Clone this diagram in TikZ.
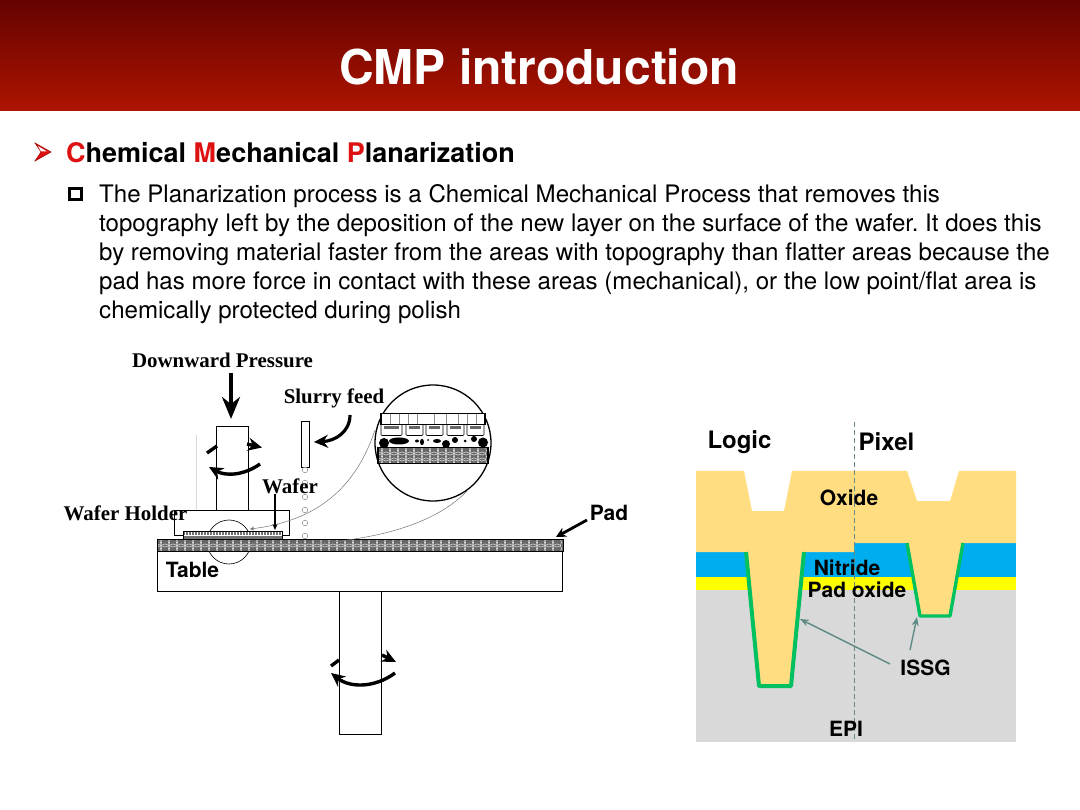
\documentclass[tikz,border=0pt]{standalone}
\usepackage{fontspec}
\setmainfont{TeX Gyre Heros}
\newfontfamily\tms{Liberation Serif}
\usetikzlibrary{arrows.meta}
\frenchspacing
\definecolor{hdtop}{HTML}{640300}
\definecolor{hdbot}{HTML}{AE1400}
\definecolor{redtx}{HTML}{DD1111}
\definecolor{oxidec}{HTML}{FFDD80}
\definecolor{nitr}{HTML}{00AEEF}
\definecolor{padox}{HTML}{FFFF00}
\definecolor{epic}{HTML}{D9D9D9}
\definecolor{liner}{HTML}{00C060}
\definecolor{pointer}{HTML}{5F8A85}
\tikzset{
  serlabel/.style={font=\tms\bfseries\fontsize{20.9}{22}\selectfont,inner sep=0pt,text=black},
  sanlabel/.style={font=\bfseries\fontsize{21}{24}\selectfont,inner sep=0pt,text=black},
  biglabel/.style={font=\bfseries\fontsize{24}{26}\selectfont,inner sep=0pt,text=black},
  sublabel/.style={font=\bfseries\fontsize{21}{23}\selectfont,inner sep=0pt,text=black},
  bodytx/.style={font=\fontsize{24.1}{29}\selectfont,inner sep=0pt,anchor=base west},
  partbox/.style={draw=black,line width=1pt,fill=white},
  turn/.style={line width=3.4pt,-{Stealth[length=14pt,width=13pt]}},
  turnplain/.style={line width=3.4pt},
  heavy/.style={line width=4pt,-{Stealth[length=22pt,width=18pt]}},
  faint/.style={draw=black!55,line width=0.5pt},
  linerline/.style={draw=liner,line width=4pt,line join=round},
  isspoint/.style={draw=pointer,line width=1.4pt,-{Stealth[length=9pt,width=7pt]}},
  drop/.style={draw=black!45,line width=0.5pt,fill=white},
}
\newcommand{\chain}[4]{%
  \begin{scope}
    \clip (#1,#2) rectangle (#3,#4);
    \fill[black!60] (#1,#2) rectangle (#3,#4);
    \foreach \cx in {#1,\numexpr#1+8\relax,...,#3}{
      \foreach \cy in {#2,\numexpr#2+6\relax,...,#4}{
        \draw[white!85!black,line width=0.55pt] (\cx,\cy+2.5) circle[radius=4.6];
      }
    }
  \end{scope}
}
\begin{document}
\begin{tikzpicture}[x=1pt,y=-1pt]
\useasboundingbox (0,0) rectangle (1080,810);
\fill[white] (0,0) rectangle (1080,810);
% header
\shade[top color=hdtop,bottom color=hdbot] (0,0) rectangle (1080,111);
\node[font=\bfseries\fontsize{48}{50}\selectfont,text=white,inner sep=0pt] (title) at (539,67) {CMP introduction};
% bullets
\fill[redtx,draw=red!60!black,line width=0.5pt] (35,143) -- (51,152) -- (35,161) -- (41,152) -- cycle;
\fill[white] (38,146) -- (47,151.5) -- (41,151.5) -- cycle;
\node[font=\bfseries\fontsize{27}{30}\selectfont,inner sep=0pt,anchor=base west] (head) at (66,163) {\textcolor{redtx}{C}hemical \textcolor{redtx}{M}echanical \textcolor{redtx}{P}lanarization};
\draw[line width=3.6pt] (69.5,188.5) rectangle (81.5,199.5);
\node[bodytx] (l1) at (99,202.7) {The Planarization process is a Chemical Mechanical Process that removes this};
\node[bodytx] (l2) at (99,231.7) {topography left by the deposition of the new layer on the surface of the wafer. It does this};
\node[bodytx] (l3) at (99,260.7) {by removing material faster from the areas with topography than flatter areas because the};
\node[bodytx] (l4) at (99,289.7) {pad has more force in contact with these areas (mechanical), or the low point/flat area is};
\node[bodytx] (l5) at (99,318.7) {chemically protected during polish};
% ---- left figure
\draw[black!15,line width=1pt] (196,435) -- (196,510);
\draw[partbox] (216,426.5) rectangle (248,510);
\draw[partbox] (174.5,510) rectangle (289.5,535);
\draw[partbox] (339.5,591) rectangle (381.5,734);
\draw[partbox] (157.5,551) rectangle (562.5,591);
% detail circle on the parts
\draw[black,line width=0.6pt] (229,542) circle[radius=22];
% wafer
\fill[black!55] (183.5,531) rectangle (282,540);
\foreach \wx in {185,188,...,282}{\draw[white,line width=0.6pt] (\wx,531.5) -- (\wx,535);}
\draw[white,line width=0.8pt] (183.5,535) -- (282,535);
\draw[black,line width=0.8pt] (183.5,540) -- (183.5,531) -- (282,531) -- (282,540);
% pad
\chain{157}{540}{563}{551}
\draw[black,line width=0.6pt] (157,539.5) rectangle (563,551);
% slurry
\draw[black,line width=0.8pt,fill=white] (301.5,421) rectangle (309.5,467);
\foreach \dy in {470,483,497,510,523,536}{\draw[drop] (305,\dy) circle[radius=2.8];}
% magnified circle
\node[draw=black,line width=1.3pt,circle,minimum size=116pt,inner sep=0pt,fill=white] (zoomc) at (433,443) {};
\coordinate (ca) at (375,430);
\coordinate (cb) at (467,491);
\coordinate (wa) at (250,529);
\coordinate (wb) at (252,543);
\draw[faint,-{Stealth[length=4pt,width=4pt]}] (ca) .. controls (355,490) and (315,521) .. (wa);
\draw[faint,-{Stealth[length=4pt,width=4pt]}] (cb) .. controls (430,530) and (350,548) .. (wb);
\draw[black,line width=1.1pt,fill=white] (381,413.5) rectangle (485,424.5);
\foreach \tx in {390,399,408,417,434,446,458,467,476}{\draw[black!45,line width=0.4pt] (\tx,414) -- (\tx,424);}
\foreach \ba/\bb in {381/402,406/423,426/443,447/464,467/484}{
  \draw[black,line width=0.6pt,rounded corners=1pt] (\ba,425) -- (\ba,435.5) -- (\bb,435.5) -- (\bb,425);
  \fill[black!60] (\ba+3,426) rectangle (\bb-3,429.5);
}
\foreach \px/\py/\rx/\ry in {384/443/5/5,399/441/10/3.5,417/441/2/1.5,422/442/2/3.2,428/440/1/1,437/441/4/2,446/444/4/4,455/440/3/3,465/441/1.5/1.5,474/439/3/3,483/442.5/5/5}{
  \fill[black] (\px,\py) ellipse[x radius=\rx,y radius=\ry];
}
\chain{378}{448}{488}{463}
\draw[black,line width=1.3pt] (378,447.5) rectangle (488,463.5);
% rotation arrows
\coordinate (ta) at (207,453); \coordinate (tb) at (217,446);
\coordinate (tc) at (247,444); \coordinate (td) at (262,447.5);
\coordinate (te) at (260,464); \coordinate (tf) at (209,467);
\draw[turnplain] (ta) -- (tb);
\draw[turn] (tc) -- (td);
\draw[turn] (te) .. controls (243,476) and (225,476) .. (tf);
\coordinate (ba) at (331,666); \coordinate (bb) at (339,660);
\coordinate (bc) at (382,655); \coordinate (bd) at (396,662);
\coordinate (be) at (395,673); \coordinate (bf) at (331,673);
\draw[turnplain] (ba) -- (bb);
\draw[turn] (bc) -- (bd);
\draw[turn] (be) .. controls (375,688) and (350,688) .. (bf);
% labels left
\node[serlabel] (dp) at (222.5,360) {Downward Pressure};
\node[serlabel] (sf) at (334,398) {Slurry feed};
\node[serlabel] (wl) at (290,486) {Wafer};
\node[serlabel] (wh) at (125.5,513) {Wafer Holder};
\node[sanlabel] (pd) at (609,513) {Pad};
\node[sanlabel] (tb2) at (192.5,570) {Table};
\coordinate (dpt) at (231,419);
\draw[heavy] (231,373) -- (dpt);
\coordinate (sft) at (314,442);
\coordinate (sfs) at (350,415);
\draw[line width=3.2pt,-{Stealth[length=14pt,width=13pt]}] (sfs) .. controls (350,432) and (335,441) .. (sft);
\coordinate (wft) at (275,530);
\draw[line width=1.3pt,-{Stealth[length=6pt,width=5pt]}] (wl.south -| wft) -- (wft);
\coordinate (pdt) at (556,537);
\draw[line width=2.8pt,-{Stealth[length=10pt,width=10pt]}] (587,520) -- (pdt);
% ---- right figure
\fill[epic] (696,590) rectangle (1016,742);
\fill[padox] (696,577) rectangle (1016,590);
\fill[nitr] (696,552) rectangle (854,577);
\fill[nitr] (854,543) rectangle (1016,577);
\fill[oxidec] (696,471) -- (744,471) -- (752,511) -- (784,511) -- (792,471) -- (907,471) -- (917,501) -- (950,501) -- (959,471) -- (1016,471) -- (1016,543) -- (854,543) -- (854,552) -- (696,552) -- cycle;
\fill[oxidec] (745,552) -- (759,686) -- (791,686) -- (805,552) -- cycle;
\fill[oxidec] (907,543) -- (920,616) -- (950,616) -- (964,543) -- cycle;
\draw[linerline] (746,552) -- (759,686) -- (791,686) -- (804,552);
\draw[linerline,line width=3.4pt] (907,543) -- (920,616) -- (950,616) -- (963,543);
\draw[pointer!80!gray,line width=0.9pt,dash pattern=on 5pt off 3pt] (854,422) -- (854,742);
\node[biglabel] (lg) at (739.5,442) {Logic};
\node[biglabel] (px) at (886.5,442) {Pixel};
\node[sublabel] (ox) at (849,498) {Oxide};
\node[sublabel] (ni) at (847,568) {Nitride};
\node[sublabel] (po) at (857,590) {Pad oxide};
\node[sublabel] (is) at (925.5,668) {ISSG};
\node[sublabel] (ep) at (846,729) {EPI};
\coordinate (isa) at (800,619);
\coordinate (isb) at (917,617);
\draw[isspoint] (890,664) -- (isa);
\draw[isspoint] (910,650) -- (isb);
\end{tikzpicture}
\end{document}
